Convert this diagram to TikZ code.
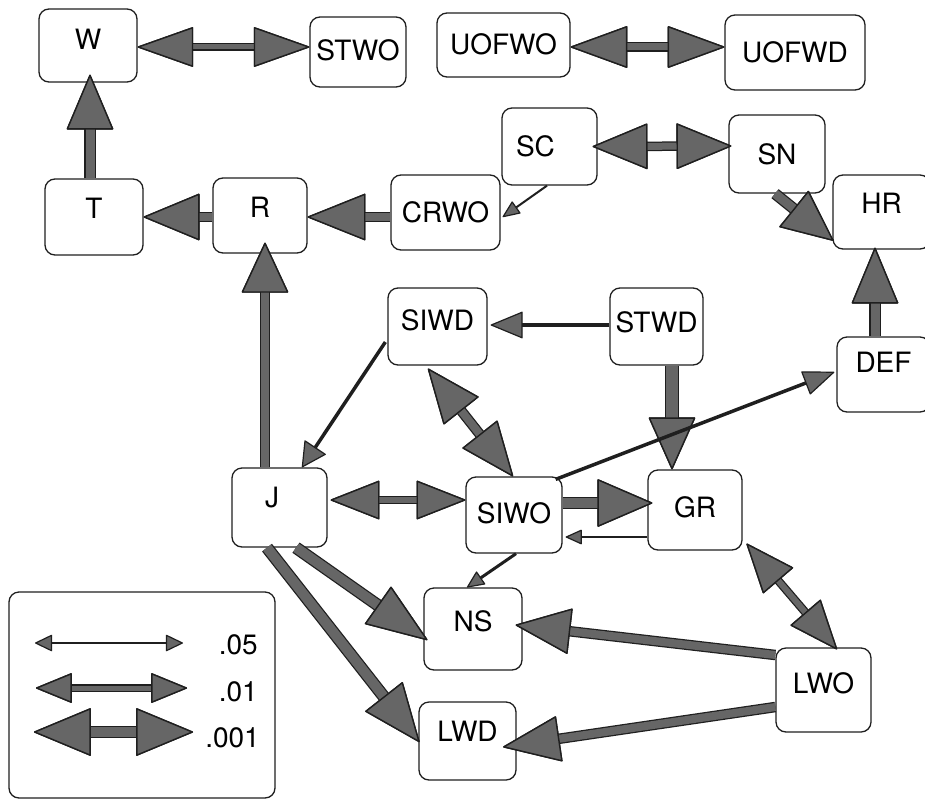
\documentclass[tikz,border=0pt]{standalone}
\usepackage{fontspec}
\setmainfont{TeX Gyre Heros}
\usetikzlibrary{arrows.meta}
\definecolor{ag}{gray}{0.40}
\definecolor{ad}{gray}{0.12}
\tikzset{
  box/.style={draw=ad, line width=1.3pt, rounded corners=10pt, fill=white,
    inner sep=0pt, text height=20pt, font=\fontsize{28}{34}\selectfont},
  lab/.style={inner sep=0pt, text height=20pt, text depth=0pt, font=\fontsize{28}{34}\selectfont},
  one/.style n args={4}{draw=ag, line width=#3,
    arrows={-Triangle[length=#1,width=#2,fill=ag,color=ad,line width=1.4pt,round]},
    preaction={draw=ad, line width=#4,
      arrows={-Triangle[length=#1,width=#2,fill=ag,color=ad,line width=1.4pt,round]}}},
  two/.style n args={4}{draw=ag, line width=#3,
    arrows={Triangle[length=#1,width=#2,fill=ag,color=ad,line width=1.4pt,round]-Triangle[length=#1,width=#2,fill=ag,color=ad,line width=1.4pt,round]},
    preaction={draw=ad, line width=#4,
      arrows={Triangle[length=#1,width=#2,fill=ag,color=ad,line width=1.4pt,round]-Triangle[length=#1,width=#2,fill=ag,color=ad,line width=1.4pt,round]}}},
  thn/.style n args={3}{draw=ad, line width=#3,
    arrows={-Triangle[length=#1,width=#2,fill=ag,color=ad,line width=1.2pt,round]}},
  thntwo/.style n args={3}{draw=ad, line width=#3,
    arrows={Triangle[length=#1,width=#2,fill=ag,color=ad,line width=1.2pt,round]-Triangle[length=#1,width=#2,fill=ag,color=ad,line width=1.2pt,round]}},
}
\begin{document}
\begin{tikzpicture}[x=1pt,y=-1pt]
\useasboundingbox (0,0) rectangle (925,800);
\fill[white] (0,0) rectangle (925,800);
\clip (0,0) rectangle (925,800);

% nodes
\node[box, minimum width=98pt, minimum height=73pt, text depth=13pt] (W) at (88,45.5) {W};
\node[box, minimum width=96pt, minimum height=70pt, text depth=4pt] (STWO) at (358,52) {STWO};
\node[box, minimum width=133pt, minimum height=64pt, text depth=0pt] (UOFWO) at (503.5,45) {UOFWO};
\node[box, minimum width=140pt, minimum height=75pt, text depth=0pt] (UOFWD) at (795,52.5) {UOFWD};
\node[box, minimum width=95pt, minimum height=77pt, text depth=0pt] (SC) at (549.5,146.5) {SC\hspace*{28pt}};
\node[box, minimum width=96pt, minimum height=78pt, text depth=0pt] (SN) at (777,154) {SN};
\node[box, minimum width=97pt, minimum height=74pt, text depth=18pt] (HR) at (881.5,212) {HR};
\node[box, minimum width=98pt, minimum height=76pt, text depth=18pt] (T) at (94,217) {T};
\node[box, minimum width=94pt, minimum height=75pt, text depth=17pt] (R) at (260,215.5) {R};
\node[box, minimum width=109pt, minimum height=75pt, text depth=0pt] (CRWO) at (445.5,212.5) {CRWO};
\node[box, minimum width=99pt, minimum height=77pt, text depth=13pt] (SIWD) at (437.5,326.5) {SIWD};
\node[box, minimum width=93pt, minimum height=77pt, text depth=9pt] (STWD) at (656.5,326.5) {STWD};
\node[box, minimum width=93pt, minimum height=75pt, text depth=25pt] (DEF) at (883.5,374.5) {DEF};
\node[box, minimum width=95pt, minimum height=79pt, text depth=21pt] (J) at (279.5,507.5) {J\hspace*{15pt}};
\node[box, minimum width=96pt, minimum height=76pt, text depth=4pt] (SIWO) at (514,515) {SIWO};
\node[box, minimum width=94pt, minimum height=80pt, text depth=6pt] (GR) at (695,510) {GR};
\node[box, minimum width=98pt, minimum height=82pt, text depth=16pt] (NS) at (473,629) {NS};
\node[box, minimum width=97pt, minimum height=78pt, text depth=20pt] (LWD) at (467.5,741) {LWD};
\node[box, minimum width=95pt, minimum height=84pt, text depth=14pt] (LWO) at (823.5,690) {LWO};

% legend
\node[box, minimum width=266pt, minimum height=206pt] (LEG) at (142,695) {};
\coordinate (a1) at (35,643);  \coordinate (b1) at (183,643);
\coordinate (a2) at (36,688);  \coordinate (b2) at (187,688);
\coordinate (a3) at (34,732);  \coordinate (b3) at (193,732);
\draw[thntwo={18pt}{17pt}{2pt}] (a1) -- (b1);
\draw[two={37pt}{30pt}{5pt}{7.5pt}] (a2) -- (b2);
\draw[two={58pt}{48pt}{10pt}{12.5pt}] (a3) -- (b3);
\node[lab, anchor=east] (L1) at (258,644) {.05};
\node[lab, anchor=east] (L2) at (258,691) {.01};
\node[lab, anchor=east] (L3) at (260,737) {.001};

% connectors
\draw[two={57pt}{40pt}{5pt}{7.5pt}] ([yshift=-1.5pt]W.east) -- ([yshift=5pt]STWO.west);
\draw[two={58pt}{42pt}{7pt}{9.5pt}] ([yshift=-2pt]UOFWO.east) -- ([yshift=5.5pt]UOFWD.west);
\draw[one={56pt}{47pt}{9pt}{11.5pt}] ([xshift=-4pt]T.north) -- ([xshift=2pt,yshift=8pt]W.south);
\draw[one={57pt}{47pt}{8pt}{10.5pt}] ([yshift=-1.5pt]R.west) -- (T.east);
\draw[one={59pt}{47pt}{8pt}{10.5pt}] ([yshift=-4.5pt]CRWO.west) -- ([yshift=-1.5pt]R.east);
\draw[thn={18pt}{15pt}{2pt}] ([xshift=-2.5pt]SC.south) -- ([xshift=2pt,yshift=-4.5pt]CRWO.east);
\draw[two={56pt}{46pt}{7pt}{9.5pt}] ([xshift=-5pt]SC.east) -- ([xshift=3pt,yshift=8pt]SN.west);
\draw[one={52pt}{47pt}{9pt}{11.5pt}] ([xshift=-2pt]SN.south) -- ([xshift=1pt,yshift=9pt]HR.south west);
\draw[one={57pt}{47pt}{9pt}{11.5pt}] ([xshift=-8.5pt]DEF.north) -- ([xshift=-6.5pt,yshift=2pt]HR.south);
\draw[thn={33pt}{27pt}{3.5pt}] ([yshift=1.5pt]STWD.west) -- ([xshift=3pt,yshift=1.5pt]SIWD.east);
\draw[thn={25pt}{26pt}{3.5pt}] ([xshift=-2pt,yshift=-15.5pt]SIWD.west) -- ([xshift=22.5pt]J.north);
\draw[one={51pt}{47pt}{8pt}{10.5pt}] ([xshift=-14.5pt]J.north) -- ([xshift=5pt,yshift=11pt]R.south);
\draw[two={55pt}{45pt}{8pt}{10.5pt}] ([xshift=-9.5pt,yshift=-3pt]SIWD.south) -- ([xshift=-1pt]SIWO.north);
\draw[one={53pt}{47pt}{12pt}{14.5pt}] ([xshift=15.5pt]STWD.south) -- ([xshift=-23pt]GR.north);
\draw[thn={32pt}{25pt}{3.5pt}] ([xshift=-7pt,yshift=-3pt]SIWO.north east) -- ([xshift=-2pt,yshift=2.5pt]DEF.west);
\draw[two={50pt}{39pt}{6pt}{8.5pt}] ([xshift=3pt,yshift=7.5pt]J.east) -- ([yshift=15pt]SIWO.west);
\draw[one={56pt}{48pt}{10pt}{12.5pt}] ([yshift=12pt]SIWO.east) -- ([xshift=5pt,yshift=7pt]GR.west);
\draw[thn={17pt}{15pt}{2pt}] ([yshift=-27pt]GR.west) -- ([xshift=3pt,yshift=-22pt]SIWO.east);
\draw[thn={18pt}{16pt}{3pt}] ([xshift=2pt]SIWO.south) -- ([xshift=-6pt]NS.north);
\draw[one={62pt}{46pt}{10pt}{12.5pt}] ([xshift=16.5pt]J.south) -- ([xshift=4pt,yshift=-11pt]NS.west);
\draw[one={59pt}{48pt}{10pt}{12.5pt}] ([xshift=-12.5pt]J.south) -- ([xshift=1pt,yshift=-1pt]LWD.west);
\draw[two={50pt}{40pt}{6pt}{8.5pt}] ([xshift=4pt,yshift=7pt]GR.south east) -- ([xshift=13.5pt,yshift=-2pt]LWO.north);
\draw[one={56pt}{46pt}{8pt}{10.5pt}] ([yshift=35pt]LWO.west) -- ([xshift=-7pt,yshift=4pt]NS.east);
\draw[one={58pt}{46pt}{8pt}{10.5pt}] ([yshift=-17pt]LWO.west) -- ([xshift=-13.5pt,yshift=-6pt]LWD.east);
\end{tikzpicture}
\end{document}
